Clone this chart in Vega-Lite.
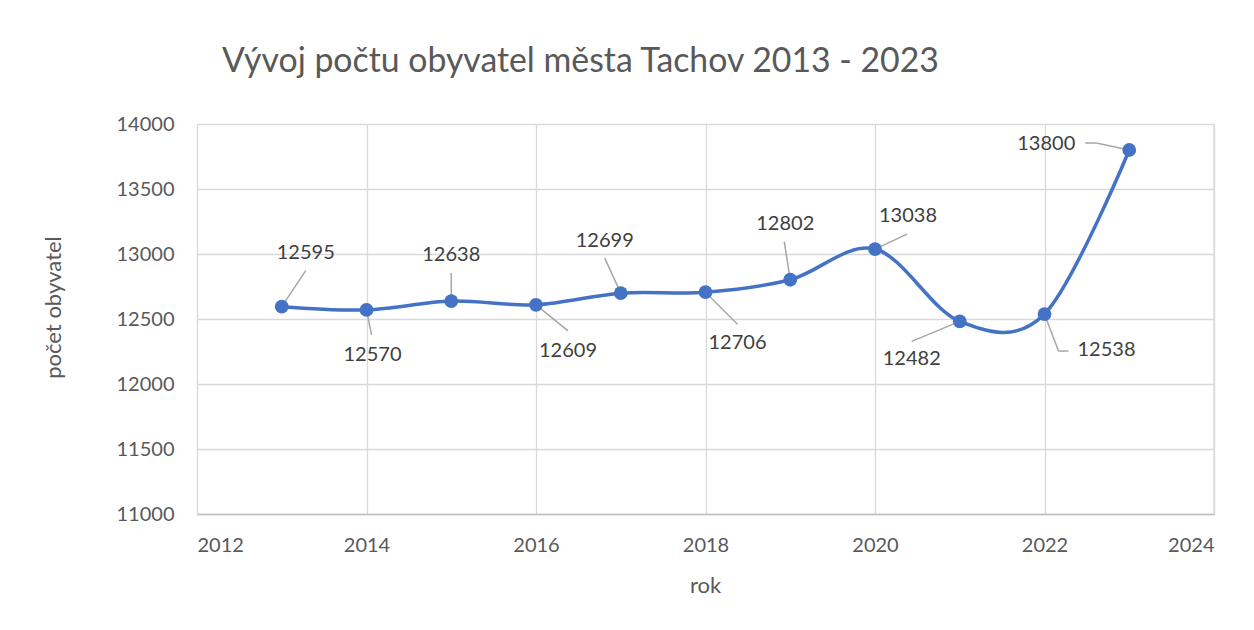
{
  "$schema": "https://vega.github.io/schema/vega-lite/v6.json",
  "autosize": {"type": "none"},
  "width": 1017,
  "height": 390,
  "padding": {"left": 197, "top": 124, "right": 40, "bottom": 116},
  "background": "white",
  "config": {
    "font": "Lato",
    "view": {"stroke": null},
    "axis": {"labelFont": "Lato", "titleFont": "Lato", "labelColor": "#595959", "titleColor": "#595959", "labelFontSize": 20, "titleFontSize": 22, "titleFontWeight": "normal", "gridColor": "#d9d9d9", "gridWidth": 1.3, "ticks": false}
  },
  "title": {"text": "Vývoj počtu obyvatel města Tachov 2013 - 2023", "font": "Lato", "fontSize": 33.8, "fontWeight": "normal", "color": "#595959", "anchor": "start", "frame": "group", "dx": 25, "baseline": "alphabetic", "offset": 8},
  "data": {"values": [
    {"rok": 2013, "obyvatel": 12595},
    {"rok": 2014, "obyvatel": 12570},
    {"rok": 2015, "obyvatel": 12638},
    {"rok": 2016, "obyvatel": 12609},
    {"rok": 2017, "obyvatel": 12699},
    {"rok": 2018, "obyvatel": 12706},
    {"rok": 2019, "obyvatel": 12802},
    {"rok": 2020, "obyvatel": 13038},
    {"rok": 2021, "obyvatel": 12482},
    {"rok": 2022, "obyvatel": 12538},
    {"rok": 2023, "obyvatel": 13800}
  ]},
  "encoding": {
    "x": {"field": "rok", "type": "quantitative", "scale": {"domain": [2012, 2024], "nice": false, "zero": false},
      "axis": {"values": [2012, 2014, 2016, 2018, 2020, 2022, 2024], "format": "d", "title": "rok", "labelPadding": 21, "domainColor": "#bfbfbf", "domainWidth": 1.5, "titleX": 508, "titleY": 78, "titleBaseline": "alphabetic", "titleAnchor": "middle"}},
    "y": {"field": "obyvatel", "type": "quantitative", "scale": {"domain": [11000, 14000], "nice": false, "zero": false},
      "axis": {"values": [11000, 11500, 12000, 12500, 13000, 13500, 14000], "format": "d", "title": "počet obyvatel", "labelPadding": 23, "domain": false, "titleX": -144, "titleY": 183, "titleBaseline": "middle", "titleAnchor": "middle"}}
  },
  "layer": [
    {"mark": {"type": "rule", "color": "#d9d9d9", "strokeWidth": 1.3}, "data": {"values": [{"rok": 2024}]}, "encoding": {"x": {"field": "rok", "type": "quantitative"}, "y": null}},
    {"transform": [{"filter": "datum.rok == 2013"}], "layer": [
      {"mark": {"type": "rule", "color": "#a6a6a6", "strokeWidth": 1.5, "x2Offset": 24, "y2Offset": -36}, "encoding": {"x2": {"field": "rok"}, "y2": {"field": "obyvatel"}}},
      {"mark": {"type": "text", "dx": 24, "dy": -54, "fontSize": 20, "color": "#404040", "font": "Lato"}, "encoding": {"text": {"field": "obyvatel", "type": "quantitative", "format": "d"}}}
    ]},
    {"transform": [{"filter": "datum.rok == 2014"}], "layer": [
      {"mark": {"type": "rule", "color": "#a6a6a6", "strokeWidth": 1.5, "x2Offset": 5, "y2Offset": 25}, "encoding": {"x2": {"field": "rok"}, "y2": {"field": "obyvatel"}}},
      {"mark": {"type": "text", "dx": 6, "dy": 45, "fontSize": 20, "color": "#404040", "font": "Lato"}, "encoding": {"text": {"field": "obyvatel", "type": "quantitative", "format": "d"}}}
    ]},
    {"transform": [{"filter": "datum.rok == 2015"}], "layer": [
      {"mark": {"type": "rule", "color": "#a6a6a6", "strokeWidth": 1.5, "x2Offset": 0, "y2Offset": -28}, "encoding": {"x2": {"field": "rok"}, "y2": {"field": "obyvatel"}}},
      {"mark": {"type": "text", "dx": 0, "dy": -46, "fontSize": 20, "color": "#404040", "font": "Lato"}, "encoding": {"text": {"field": "obyvatel", "type": "quantitative", "format": "d"}}}
    ]},
    {"transform": [{"filter": "datum.rok == 2016"}], "layer": [
      {"mark": {"type": "rule", "color": "#a6a6a6", "strokeWidth": 1.5, "x2Offset": 32, "y2Offset": 26}, "encoding": {"x2": {"field": "rok"}, "y2": {"field": "obyvatel"}}},
      {"mark": {"type": "text", "dx": 32, "dy": 46, "fontSize": 20, "color": "#404040", "font": "Lato"}, "encoding": {"text": {"field": "obyvatel", "type": "quantitative", "format": "d"}}}
    ]},
    {"transform": [{"filter": "datum.rok == 2017"}], "layer": [
      {"mark": {"type": "rule", "color": "#a6a6a6", "strokeWidth": 1.5, "x2Offset": -16, "y2Offset": -35}, "encoding": {"x2": {"field": "rok"}, "y2": {"field": "obyvatel"}}},
      {"mark": {"type": "text", "dx": -16, "dy": -52, "fontSize": 20, "color": "#404040", "font": "Lato"}, "encoding": {"text": {"field": "obyvatel", "type": "quantitative", "format": "d"}}}
    ]},
    {"transform": [{"filter": "datum.rok == 2018"}], "layer": [
      {"mark": {"type": "rule", "color": "#a6a6a6", "strokeWidth": 1.5, "x2Offset": 32, "y2Offset": 32}, "encoding": {"x2": {"field": "rok"}, "y2": {"field": "obyvatel"}}},
      {"mark": {"type": "text", "dx": 32, "dy": 51, "fontSize": 20, "color": "#404040", "font": "Lato"}, "encoding": {"text": {"field": "obyvatel", "type": "quantitative", "format": "d"}}}
    ]},
    {"transform": [{"filter": "datum.rok == 2019"}], "layer": [
      {"mark": {"type": "rule", "color": "#a6a6a6", "strokeWidth": 1.5, "x2Offset": -6, "y2Offset": -38}, "encoding": {"x2": {"field": "rok"}, "y2": {"field": "obyvatel"}}},
      {"mark": {"type": "text", "dx": -5, "dy": -56, "fontSize": 20, "color": "#404040", "font": "Lato"}, "encoding": {"text": {"field": "obyvatel", "type": "quantitative", "format": "d"}}}
    ]},
    {"transform": [{"filter": "datum.rok == 2020"}], "layer": [
      {"mark": {"type": "rule", "color": "#a6a6a6", "strokeWidth": 1.5, "x2Offset": 32, "y2Offset": -15}, "encoding": {"x2": {"field": "rok"}, "y2": {"field": "obyvatel"}}},
      {"mark": {"type": "text", "dx": 33, "dy": -33, "fontSize": 20, "color": "#404040", "font": "Lato"}, "encoding": {"text": {"field": "obyvatel", "type": "quantitative", "format": "d"}}}
    ]},
    {"transform": [{"filter": "datum.rok == 2021"}], "layer": [
      {"mark": {"type": "rule", "color": "#a6a6a6", "strokeWidth": 1.5, "x2Offset": -48, "y2Offset": 20}, "encoding": {"x2": {"field": "rok"}, "y2": {"field": "obyvatel"}}},
      {"mark": {"type": "text", "dx": -48, "dy": 38, "fontSize": 20, "color": "#404040", "font": "Lato"}, "encoding": {"text": {"field": "obyvatel", "type": "quantitative", "format": "d"}}}
    ]},
    {"transform": [{"filter": "datum.rok == 2022"}], "layer": [
      {"mark": {"type": "rule", "color": "#a6a6a6", "strokeWidth": 1.5, "x2Offset": 14, "y2Offset": 37}, "encoding": {"x2": {"field": "rok"}, "y2": {"field": "obyvatel"}}},
      {"mark": {"type": "rule", "color": "#a6a6a6", "strokeWidth": 1.5, "xOffset": 14, "yOffset": 37, "x2Offset": 24, "y2Offset": 37}, "encoding": {"x2": {"field": "rok"}, "y2": {"field": "obyvatel"}}},
      {"mark": {"type": "text", "dx": 62, "dy": 36, "fontSize": 20, "color": "#404040", "font": "Lato"}, "encoding": {"text": {"field": "obyvatel", "type": "quantitative", "format": "d"}}}
    ]},
    {"transform": [{"filter": "datum.rok == 2023"}], "layer": [
      {"mark": {"type": "rule", "color": "#a6a6a6", "strokeWidth": 1.5, "x2Offset": -33, "y2Offset": -7}, "encoding": {"x2": {"field": "rok"}, "y2": {"field": "obyvatel"}}},
      {"mark": {"type": "rule", "color": "#a6a6a6", "strokeWidth": 1.5, "xOffset": -33, "yOffset": -7, "x2Offset": -44, "y2Offset": -7}, "encoding": {"x2": {"field": "rok"}, "y2": {"field": "obyvatel"}}},
      {"mark": {"type": "text", "dx": -83, "dy": -6, "fontSize": 20, "color": "#404040", "font": "Lato"}, "encoding": {"text": {"field": "obyvatel", "type": "quantitative", "format": "d"}}}
    ]},
    {"mark": {"type": "line", "color": "#4472C4", "strokeWidth": 3.5, "interpolate": "cardinal", "tension": 0}},
    {"mark": {"type": "point", "filled": true, "opacity": 1, "color": "#4472C4", "size": 190}}
  ]
}
